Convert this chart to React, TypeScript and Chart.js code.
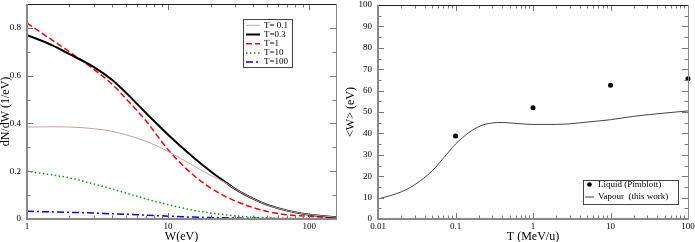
import React, { useEffect, useRef } from "react";
import { Chart, registerables } from "chart.js";

Chart.register(...registerables);

// ---- Left panel data: dN/dW vs W for several T (MeV/u)
const W_EV = [1, 1.5, 2, 3, 4, 5, 7, 10, 15, 20, 25, 30, 40, 50, 70, 100, 155];
const T01 = [0.385, 0.386, 0.385, 0.378, 0.367, 0.353, 0.325, 0.283, 0.224, 0.183, 0.155, 0.125, 0.085, 0.06, 0.035, 0.018, 0.008];
const T03 = [0.77, 0.728, 0.69, 0.635, 0.583, 0.53, 0.443, 0.353, 0.26, 0.2, 0.158, 0.125, 0.085, 0.06, 0.035, 0.018, 0.008];
const T1 = [0.82, 0.75, 0.7, 0.625, 0.565, 0.505, 0.41, 0.29, 0.185, 0.13, 0.097, 0.075, 0.048, 0.032, 0.018, 0.011, 0.005];
const T10 = [0.2, 0.185, 0.172, 0.146, 0.126, 0.109, 0.084, 0.06, 0.037, 0.025, 0.018, 0.013, 0.008, 0.005, 0.003, 0.0015, 0.0005];
const T100 = [0.032, 0.03, 0.028, 0.025, 0.022, 0.02, 0.016, 0.012, 0.008, 0.006, 0.005, 0.004, 0.003, 0.002, 0.0015, 0.001, 0.0005];
const LEFT_LABELS = ["T= 0.1", "T=0.3", "T=1", "T=10", "T=100"];
const LEFT_X_TICKS = [1, 10, 100];
const LEFT_Y_TICKS = [0, 0.2, 0.4, 0.6, 0.8];

// ---- Right panel data: <W> vs T
const T_MEV = [0.01, 0.02, 0.03, 0.05, 0.07, 0.1, 0.15, 0.2, 0.25, 0.3, 0.4, 0.5, 0.7, 1, 2, 3, 5, 10, 20, 50, 100];
const VAPOUR = [9.3, 12.7, 16.1, 22.5, 28.5, 35, 40.5, 43.2, 44.4, 44.9, 45.1, 44.9, 44.5, 44.2, 44.2, 44.5, 45.3, 46.4, 48, 49.5, 50.5];
const LIQ_T = [0.1, 1, 10, 100];
const LIQ_W = [38.8, 52, 62.5, 65.5];
const RIGHT_LABELS = ["Liquid (Pimblott)", "Vapour  (this work)"];
const RIGHT_X_TICKS = [0.01, 0.1, 1, 10, 100];
const RIGHT_Y_TICKS = [0, 10, 20, 30, 40, 50, 60, 70, 80, 90, 100];

const FONT = "'Liberation Serif', 'Times New Roman', serif";

function logMinors(min: number, max: number) {
  const out: number[] = [];
  for (let d = Math.floor(Math.log10(min)); d <= Math.ceil(Math.log10(max)); d++) {
    for (let k = 2; k <= 9; k++) {
      const v = k * Math.pow(10, d);
      if (v > min && v < max) out.push(v);
    }
  }
  return out;
}

const framePlugin = {
  id: "frameTicks",
  afterDraw(chart: any, _args: any, opts: any) {
    const { ctx, chartArea: a, scales } = chart;
    const xs = scales.x, ys = scales.y;
    ctx.save();
    const tick = (vals: number[], len: number, axis: "x" | "y") => {
      ctx.strokeStyle = "#777";
      ctx.lineWidth = 1;
      ctx.beginPath();
      for (const v of vals) {
        if (axis === "x") {
          const p = Math.round(xs.getPixelForValue(v)) + 0.5;
          ctx.moveTo(p, a.bottom); ctx.lineTo(p, a.bottom - len);
          ctx.moveTo(p, a.top); ctx.lineTo(p, a.top + len);
        } else {
          const p = Math.round(ys.getPixelForValue(v)) + 0.5;
          ctx.moveTo(a.left, p); ctx.lineTo(a.left + len, p);
          ctx.moveTo(a.right, p); ctx.lineTo(a.right - len, p);
        }
      }
      ctx.stroke();
    };
    tick(opts.xMajor, 6, "x");
    tick(opts.xMinor, 3.5, "x");
    tick(opts.yMajor, 6, "y");
    tick(opts.yMinor, 3.5, "y");
    // frame
    ctx.strokeStyle = "#222";
    ctx.lineWidth = 1;
    ctx.beginPath();
    ctx.moveTo(a.left, Math.round(a.top) + 0.5);
    ctx.lineTo(a.right, Math.round(a.top) + 0.5);
    ctx.stroke();
    ctx.strokeStyle = "#888";
    ctx.beginPath();
    ctx.moveTo(Math.round(a.right) + 0.5, a.top);
    ctx.lineTo(Math.round(a.right) + 0.5, a.bottom);
    ctx.stroke();
    ctx.lineWidth = 2;
    ctx.beginPath();
    ctx.moveTo(Math.round(a.left), a.top);
    ctx.lineTo(Math.round(a.left), Math.round(a.bottom));
    ctx.lineTo(a.right + 1, Math.round(a.bottom));
    ctx.stroke();

    // legend
    const L = opts.legend;
    if (L) {
      ctx.fillStyle = "#fff";
      ctx.fillRect(L.x, L.y, L.w, L.h);
      ctx.strokeStyle = "#444";
      ctx.lineWidth = 1;
      ctx.strokeRect(L.x + 0.5, L.y + 0.5, L.w, L.h);
      ctx.font = `9px ${FONT}`;
      ctx.textBaseline = "middle";
      ctx.textAlign = "left";
      L.items.forEach((it: any, i: number) => {
        const y = L.rowY + i * L.rowH;
        if (it.point) {
          ctx.fillStyle = it.color;
          ctx.beginPath();
          ctx.arc((L.sx0 + L.sx1) / 2, y, 2.3, 0, Math.PI * 2);
          ctx.fill();
        } else {
          ctx.strokeStyle = it.color;
          ctx.lineWidth = it.width;
          ctx.setLineDash(it.dash || []);
          ctx.beginPath();
          ctx.moveTo(L.sx0, y);
          ctx.lineTo(L.sx1, y);
          ctx.stroke();
          ctx.setLineDash([]);
        }
        ctx.fillStyle = "#000";
        ctx.fillText(it.label, L.tx, y);
      });
    }
    ctx.restore();
  },
};

function pts(xs: number[], ys: number[]) {
  return xs.map((x, i) => ({ x, y: ys[i] }));
}

function makeScales(o: any) {
  return {
    x: {
      type: "logarithmic",
      min: o.xMin,
      max: o.xMax,
      grid: { display: false, drawTicks: false },
      border: { display: false },
      afterBuildTicks: (s: any) => { s.ticks = o.xTicks.map((v: number) => ({ value: v })); },
      afterFit: (s: any) => { s.height = o.xHeight; s.paddingLeft = 0; s.paddingRight = 0; },
      ticks: {
        font: { size: 9, family: FONT },
        color: "#000",
        padding: 2,
        maxRotation: 0,
        autoSkip: false,
        callback: (v: any) => String(v),
      },
      title: {
        display: true,
        text: o.xTitle,
        color: "#000",
        font: { size: 12, family: FONT, lineHeight: 0.8 },
        padding: { top: 0, bottom: 0 },
      },
    },
    y: {
      type: "linear",
      min: o.yMin,
      max: o.yMax,
      grid: { display: false, drawTicks: false },
      border: { display: false },
      afterBuildTicks: (s: any) => { s.ticks = o.yTicks.map((v: number) => ({ value: v })); },
      afterFit: (s: any) => { s.width = o.yWidth; s.paddingTop = 0; s.paddingBottom = 0; },
      ticks: {
        font: { size: 9, family: FONT },
        color: "#000",
        padding: 6,
        autoSkip: false,
        callback: o.yFmt,
      },
      title: {
        display: true,
        text: o.yTitle,
        color: "#000",
        font: { size: 12, family: FONT, lineHeight: 1 },
        padding: { top: 0, bottom: 0 },
      },
    },
  };
}

const LEFT_STYLES = [
  { color: "#c8a0a0", width: 1, dash: [] as number[] },
  { color: "#000000", width: 2, dash: [] as number[] },
  { color: "#ff0000", width: 1.5, dash: [6, 3] },
  { color: "#00a000", width: 1.5, dash: [1.5, 2.5] },
  { color: "#0000ff", width: 1.5, dash: [7, 3, 2, 3] },
];

export default function App() {
  const leftRef = useRef<HTMLCanvasElement>(null);
  const rightRef = useRef<HTMLCanvasElement>(null);

  useEffect(() => {
    const seriesL = [T01, T03, T1, T10, T100];
    const left = new Chart(leftRef.current as HTMLCanvasElement, {
      type: "scatter",
      data: {
        datasets: seriesL.map((s, i) => ({
          label: LEFT_LABELS[i],
          data: pts(W_EV, s),
          showLine: true,
          pointRadius: 0,
          borderColor: LEFT_STYLES[i].color,
          borderWidth: LEFT_STYLES[i].width,
          borderDash: LEFT_STYLES[i].dash,
          cubicInterpolationMode: "monotone",
          fill: false,
        })),
      },
      options: {
        responsive: false,
        animation: false,
        events: [],
        layout: { padding: { top: 4, right: 9, left: 0, bottom: 0 } },
        plugins: {
          legend: { display: false },
          tooltip: { enabled: false },
          frameTicks: {
            xMajor: LEFT_X_TICKS,
            xMinor: logMinors(1, 155),
            yMajor: LEFT_Y_TICKS,
            yMinor: [0.1, 0.3, 0.5, 0.7],
            legend: {
              x: 243, y: 19, w: 49, h: 48,
              rowY: 25.3, rowH: 9.2, sx0: 246, sx1: 260, tx: 264,
              items: LEFT_LABELS.map((l, i) => ({ label: l, ...LEFT_STYLES[i] })),
            },
          },
        } as any,
        scales: makeScales({
          xMin: 1, xMax: 155, xTicks: LEFT_X_TICKS, xHeight: 23, xTitle: "W(eV)",
          yMin: 0, yMax: 0.9, yTicks: LEFT_Y_TICKS, yWidth: 27, yTitle: "dN/dW (1/eV)",
          yFmt: (v: any) => (v === 0 ? "0" : Number(v).toFixed(1)),
        }) as any,
      },
      plugins: [framePlugin],
    } as any);

    const right = new Chart(rightRef.current as HTMLCanvasElement, {
      type: "scatter",
      data: {
        datasets: [
          {
            label: RIGHT_LABELS[0],
            data: pts(LIQ_T, LIQ_W),
            showLine: false,
            pointRadius: 2.5,
            pointBackgroundColor: "#000",
            pointBorderColor: "#000",
            pointBorderWidth: 0,
            clip: false,
          },
          {
            label: RIGHT_LABELS[1],
            data: pts(T_MEV, VAPOUR),
            showLine: true,
            pointRadius: 0,
            borderColor: "#444",
            borderWidth: 1,
            cubicInterpolationMode: "monotone",
            fill: false,
          },
        ],
      },
      options: {
        responsive: false,
        animation: false,
        events: [],
        layout: { padding: { top: 5, right: 7, left: 0, bottom: 0 } },
        plugins: {
          legend: { display: false },
          tooltip: { enabled: false },
          frameTicks: {
            xMajor: RIGHT_X_TICKS,
            xMinor: logMinors(0.01, 100),
            yMajor: RIGHT_Y_TICKS,
            yMinor: [5, 15, 25, 35, 45, 55, 65, 75, 85, 95],
            legend: {
              x: 238, y: 180, w: 95, h: 24,
              rowY: 184.5, rowH: 12.5, sx0: 240, sx1: 249, tx: 253,
              items: [
                { label: RIGHT_LABELS[0], color: "#000", point: true },
                { label: RIGHT_LABELS[1], color: "#444", width: 1 },
              ],
            },
          },
        } as any,
        scales: makeScales({
          xMin: 0.01, xMax: 100, xTicks: RIGHT_X_TICKS, xHeight: 23, xTitle: "T (MeV/u)",
          yMin: 0, yMax: 100, yTicks: RIGHT_Y_TICKS, yWidth: 33, yTitle: "<W> (eV)",
          yFmt: (v: any) => String(v),
        }) as any,
      },
      plugins: [framePlugin],
    } as any);

    return () => {
      left.destroy();
      right.destroy();
    };
  }, []);

  return (
    <div style={{ position: "fixed", left: 0, top: 0, width: 695, height: 242, background: "#fff" }}>
      <canvas ref={leftRef} width={345} height={242} style={{ position: "absolute", left: 0, top: 0, width: 345, height: 242 }} />
      <canvas ref={rightRef} width={350} height={242} style={{ position: "absolute", left: 345, top: 0, width: 350, height: 242 }} />
    </div>
  );
}
